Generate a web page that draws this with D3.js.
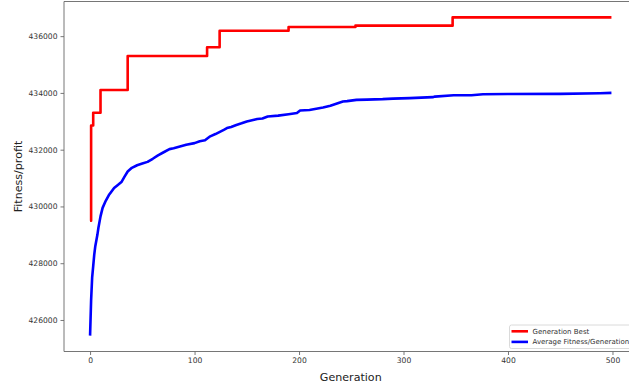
<!DOCTYPE html>
<html>
<head>
<meta charset="utf-8">
<script src="https://cdn.jsdelivr.net/npm/d3@7"></script>
<style>
  body { margin: 0; background: #fff; overflow: hidden; }
  svg { display: block; overflow: hidden; font-family: "DejaVu Sans", sans-serif; }
</style>
</head>
<body>
<div id="chart"></div>
<script>
// Generation Best: step changes (generation, fitness)
const bestGen = [0, 1, 3, 10, 36, 112, 124, 190, 254, 347, 499];
const bestFit = [429500, 432850, 433300, 434100, 435300, 435610, 436190, 436320, 436370, 436660, 436660];

// Average Fitness/Generation
const avgGen = [0, 1, 2, 3, 4, 5, 7, 8, 10, 12, 15, 18, 20, 23, 26, 30, 33, 36, 40, 45, 50, 55, 60, 65, 70, 76, 80, 86, 92, 100,
  105, 110, 115, 120, 128, 131, 135, 140, 145, 150, 157, 160, 165, 170, 180, 190, 198, 201, 210, 223, 230, 242, 246, 255, 265,
  280, 290, 306, 328, 330, 348, 365, 376, 400, 450, 488, 499];
const avgFit = [425450, 426700, 427500, 427900, 428300, 428600, 429000, 429250, 429650, 429950, 430200, 430400, 430500, 430650,
  430740, 430860, 431050, 431230, 431360, 431450, 431510, 431570, 431680, 431800, 431900, 432020, 432050, 432110, 432175,
  432230, 432300, 432330, 432470, 432550, 432700, 432760, 432800, 432870, 432930, 432995, 433053, 433080, 433100, 433170,
  433200, 433250, 433290, 433380, 433400, 433484, 433545, 433695, 433710, 433755, 433765, 433780, 433800, 433815, 433850,
  433870, 433920, 433920, 433955, 433960, 433965, 433990, 434000];

const xTicks = [0, 100, 200, 300, 400, 500];
const yTicks = [426000, 428000, 430000, 432000, 434000, 436000];
const seriesNames = ["Generation Best", "Average Fitness/Generation"];
const seriesColors = ["#ff0000", "#0000ff"];

const width = 629, height = 383;
const box = { left: 64, right: 637.5, top: 1.5, bottom: 351.5 };

const best = bestGen.map((g, i) => [g, bestFit[i]]);
const avg = avgGen.map((g, i) => [g, avgFit[i]]);

const svg = d3.select("#chart").append("svg")
  .attr("width", width)
  .attr("height", height);

// matplotlib-like 5% margins
const xMin = 0, xMax = 499;
const yExt = d3.extent(bestFit.concat(avgFit));
const xPad = (xMax - xMin) * 0.05, yPad = (yExt[1] - yExt[0]) * 0.05;

const x = d3.scaleLinear().domain([xMin - xPad, xMax + xPad]).range([box.left, box.right]);
const y = d3.scaleLinear().domain([yExt[0] - yPad, yExt[1] + yPad]).range([box.bottom, box.top]);

const plot = svg.append("g");

const lineStep = d3.line().x(d => x(d[0])).y(d => y(d[1])).curve(d3.curveStepAfter);
const lineAvg = d3.line().x(d => x(d[0])).y(d => y(d[1]));

plot.append("path")
  .datum(best)
  .attr("d", lineStep)
  .style("fill", "none")
  .style("stroke", seriesColors[0])
  .style("stroke-width", 2.6)
  .style("stroke-linejoin", "round");

plot.append("path")
  .datum(avg)
  .attr("d", lineAvg)
  .style("fill", "none")
  .style("stroke", seriesColors[1])
  .style("stroke-width", 2.6)
  .style("stroke-linejoin", "round");

// Axes
const xAxis = svg.append("g")
  .attr("transform", `translate(0,${box.bottom})`)
  .call(d3.axisBottom(x).tickValues(xTicks).tickFormat(d3.format("d")).tickSize(3.5).tickPadding(3));

const yAxis = svg.append("g")
  .attr("transform", `translate(${box.left},0)`)
  .call(d3.axisLeft(y).tickValues(yTicks).tickFormat(d3.format("d")).tickSize(3.5).tickPadding(3));

[xAxis, yAxis].forEach(a => {
  a.select(".domain").remove();
  a.selectAll(".tick line").style("stroke", "#555").style("stroke-width", 0.8);
  a.selectAll(".tick text").style("font-size", "7.6px").style("fill", "#333")
    .style("font-family", "DejaVu Sans, sans-serif");
});

// Spines: the right one is cropped off in the original
const spines = [
  [box.left, box.top, box.right, box.top],
  [box.left, box.bottom, box.right, box.bottom],
  [box.left, box.top, box.left, box.bottom]
];
svg.selectAll(".spine")
  .data(spines)
  .enter()
  .append("line")
  .attr("class", "spine")
  .attr("x1", d => d[0]).attr("y1", d => d[1])
  .attr("x2", d => d[2]).attr("y2", d => d[3])
  .style("stroke", "#666")
  .style("stroke-width", 0.9);

// Axis labels
svg.append("text")
  .attr("x", (box.left + box.right) / 2)
  .attr("y", 381)
  .attr("text-anchor", "middle")
  .style("font-size", "11.1px")
  .style("fill", "#222")
  .text("Generation");

svg.append("text")
  .attr("transform", `translate(21.5,${(box.top + box.bottom) / 2}) rotate(-90)`)
  .attr("text-anchor", "middle")
  .style("font-size", "11.1px")
  .style("fill", "#222")
  .text("Fitness/profit");

// Legend
const legend = svg.append("g").attr("transform", "translate(509.5,325)");
legend.append("rect")
  .attr("width", 125).attr("height", 23.5)
  .attr("rx", 2)
  .style("fill", "#fff")
  .style("fill-opacity", 0.8)
  .style("stroke", "#d0d0d0")
  .style("stroke-width", 0.8);

seriesNames.forEach((name, i) => {
  const row = legend.append("g").attr("transform", `translate(0,${6.3 + i * 10.6})`);
  row.append("line")
    .attr("x1", 2).attr("x2", 18.5)
    .style("stroke", seriesColors[i])
    .style("stroke-width", 2.6);
  row.append("text")
    .attr("x", 23)
    .attr("dy", "0.35em")
    .style("font-size", "7px")
    .style("fill", "#333")
    .text(name);
});
</script>
</body>
</html>
